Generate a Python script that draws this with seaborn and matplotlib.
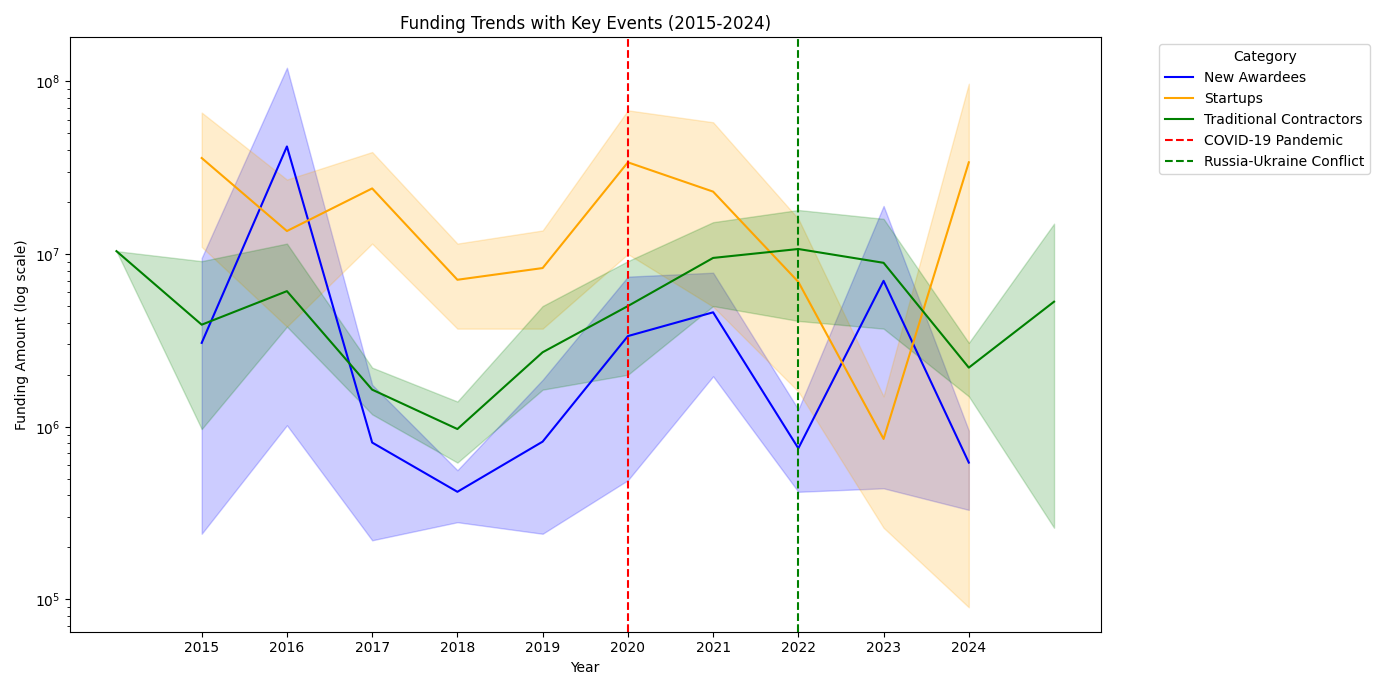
import matplotlib
matplotlib.use("Agg")
import matplotlib.pyplot as plt
import seaborn as sns
import pandas as pd

years_na = [2015, 2016, 2017, 2018, 2019, 2020, 2021, 2022, 2023, 2024]
na_mean = [3.06e6, 4.2e7, 8.1e5, 4.2e5, 8.2e5, 3.35e6, 4.6e6, 7.5e5, 7.0e6, 6.2e5]
na_low = [2.4e5, 1.02e6, 2.2e5, 2.8e5, 2.4e5, 4.9e5, 1.96e6, 4.2e5, 4.4e5, 3.3e5]
na_high = [9.5e6, 1.2e8, 1.75e6, 5.6e5, 1.87e6, 7.4e6, 7.8e6, 1.26e6, 1.9e7, 9.5e5]

years_st = [2015, 2016, 2017, 2018, 2019, 2020, 2021, 2022, 2023, 2024]
st_mean = [3.6e7, 1.36e7, 2.4e7, 7.1e6, 8.3e6, 3.4e7, 2.3e7, 6.9e6, 8.5e5, 3.4e7]
st_low = [1.1e7, 3.8e6, 1.15e7, 3.7e6, 3.7e6, 1.0e7, 4.96e6, 1.6e6, 2.6e5, 9.0e4]
st_high = [6.6e7, 2.7e7, 3.9e7, 1.15e7, 1.37e7, 6.8e7, 5.8e7, 1.6e7, 1.5e6, 9.7e7]

years_tc = [2014, 2015, 2016, 2017, 2018, 2019, 2020, 2021, 2022, 2023, 2024, 2025]
tc_mean = [1.04e7, 3.9e6, 6.1e6, 1.64e6, 9.7e5, 2.7e6, 5.0e6, 9.5e6, 1.07e7, 8.9e6, 2.2e6, 5.3e6]
tc_low = [1.04e7, 9.7e5, 3.8e6, 1.18e6, 6.2e5, 1.64e6, 2.0e6, 5.0e6, 4.1e6, 3.7e6, 1.5e6, 2.6e5]
tc_high = [1.04e7, 9.1e6, 1.15e7, 2.2e6, 1.4e6, 5.0e6, 9.1e6, 1.53e7, 1.8e7, 1.6e7, 3.06e6, 1.5e7]

tick_years = list(range(2015, 2025))

series = [
    ("New Awardees", years_na, na_mean, na_low, na_high, "blue"),
    ("Startups", years_st, st_mean, st_low, st_high, "orange"),
    ("Traditional Contractors", years_tc, tc_mean, tc_low, tc_high, "green"),
]

fig, ax = plt.subplots(figsize=(13.87, 6.9), dpi=100)
for name, yrs, m, lo, hi, c in series:
    df = pd.DataFrame({"Year": yrs, "Amount": m})
    sns.lineplot(data=df, x="Year", y="Amount", color=c, label=name, ax=ax)
    ax.fill_between(yrs, lo, hi, color=c, alpha=0.2, linewidth=1)

ax.axvline(2020, color="red", linestyle="--", label="COVID-19 Pandemic")
ax.axvline(2022, color="green", linestyle="--", label="Russia-Ukraine Conflict")
ax.set_yscale("log")
ax.set_ylim(6.5e4, 1.8e8)
ax.set_xticks(tick_years)
ax.set_xlabel("Year")
ax.set_ylabel("Funding Amount (log scale)")
ax.set_title("Funding Trends with Key Events (2015-2024)")
ax.legend(title="Category", bbox_to_anchor=(1.05, 1), loc="upper left")
plt.tight_layout()
plt.savefig("out.png")
